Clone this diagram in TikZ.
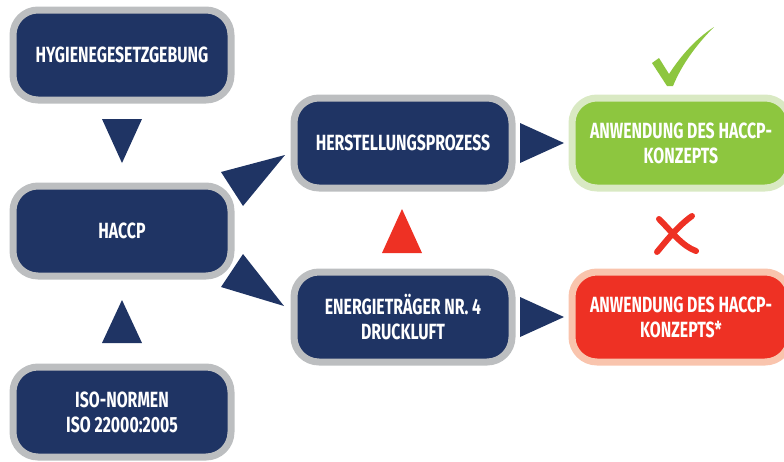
\documentclass[tikz,border=0pt]{standalone}
\usepackage{fontspec}
\setmainfont{Fira Sans}[FakeStretch=0.72]
\definecolor{navy}{HTML}{1F3464}
\definecolor{boxgray}{HTML}{BCBEC0}
\definecolor{okgreen}{HTML}{8DC63F}
\definecolor{okrim}{HTML}{D9E9C3}
\definecolor{badred}{HTML}{EE3124}
\definecolor{badrim}{HTML}{F9C4AD}

\begin{document}
\begin{tikzpicture}[x=1pt, y=-1pt,
                    box/.style={draw=boxgray, line width=7pt, fill=navy,
                                rounded corners=25pt, minimum width=218pt,
                                minimum height=90pt, inner sep=0pt,
                                text=white, align=center,
                                font=\bfseries\fontsize{22}{25}\selectfont},
                    tri/.style={fill=navy}]
                \useasboundingbox (0,0) rectangle (784,461);

                \node[box] (hyg) at (122,55) {HYGIENEGESETZGEBUNG};
                \node[box] (haccp) at (122,231) {HACCP};
                \node[box] (iso) at (122,412) {ISO-NORMEN\\ISO 22000:2005};
                \node[box] (proc) at (403,143) {HERSTELLUNGSPROZESS};
                \node[box] (energy) at (403,317) {ENERGIETRÄGER NR. 4\\DRUCKLUFT};
                \node[box, draw=okrim, fill=okgreen] (ok) at (681,143) {ANWENDUNG DES HACCP-\\KONZEPTS};
                \node[box, draw=badrim, fill=badred] (bad) at (681,317) {ANWENDUNG DES HACCP-\\KONZEPTS*};

                \fill[tri] (102,119) -- (142,119) -- (122,163) -- cycle;
                \fill[tri] (102,343) -- (142,343) -- (122,300) -- cycle;
                \fill[tri] (221,172) -- (285,155) -- (243,206) -- cycle;
                \fill[tri] (243,254) -- (221,287) -- (284,306) -- cycle;
                \fill[tri] (520,123) -- (520,163) -- (564,143) -- cycle;
                \fill[tri] (520,297) -- (520,337) -- (564,317) -- cycle;
                \fill[badred] (382,253) -- (422,253) -- (402,209) -- cycle;

                \fill[okgreen] (652,63) -- (659,58) -- (669,74)
                    .. controls (682,54) and (697,38) .. (714,27)
                    .. controls (697,44) and (682,64) .. (673,86)
                    -- (667,86) -- cycle;
                \draw[badred, line width=6pt, line cap=round]
                    (659,219) .. controls (672,232) and (682,246) .. (696,251)
                    (692,216) .. controls (678,226) and (667,240) .. (657,252);
            \end{tikzpicture}
\end{document}
